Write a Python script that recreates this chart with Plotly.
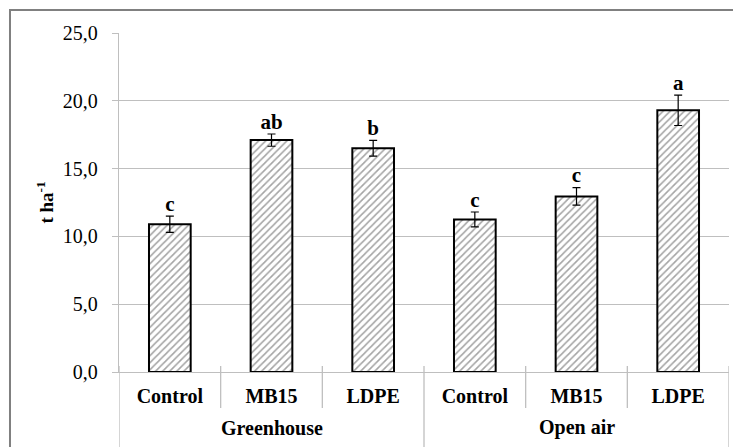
import plotly.graph_objects as go

groups = ["Greenhouse", "Greenhouse", "Greenhouse", "Open air", "Open air", "Open air"]
treatments = ["Control", "MB15", "LDPE", "Control", "MB15", "LDPE"]
yields = [10.9, 17.1, 16.5, 11.25, 12.95, 19.3]
errors = [0.6, 0.45, 0.58, 0.55, 0.64, 1.12]
letters = ["c", "ab", "b", "c", "c", "a"]
y_ticks = [0, 5, 10, 15, 20, 25]
group_names = ["Greenhouse", "Open air"]

keys = [g + "|" + t for g, t in zip(groups, treatments)]

serif = "Liberation Serif, Times New Roman, serif"
grid = "#bfbfbf"

fig = go.Figure()
fig.add_trace(go.Bar(
    x=keys, y=yields, width=0.41,
    marker=dict(color="white", line=dict(color="black", width=2),
                pattern=dict(shape="/", fgcolor="#4a4a4a", bgcolor="white", size=5, solidity=0.32)),
    error_y=dict(type="data", array=errors, color="black", thickness=1.2, width=4),
    showlegend=False,
))
fig.add_trace(go.Scatter(
    x=keys, y=[v + e for v, e in zip(yields, errors)],
    mode="text", text=letters, textposition="top center",
    textfont=dict(family=serif, size=21, color="black", weight="bold"),
    showlegend=False, cliponaxis=False,
))

n = len(keys)
shapes = []
annotations = []
for i in range(n + 1):
    xv = i - 0.5
    boundary = (i == 0 or i == n or groups[i - 1] != groups[i])
    shapes.append(dict(type="line", xref="x", yref="paper", x0=xv, x1=xv,
                       y0=-0.23 if boundary else -0.106, y1=0.018,
                       line=dict(color=grid, width=1.3)))
for g in group_names:
    idx = [i for i, gg in enumerate(groups) if gg == g]
    annotations.append(dict(xref="x", yref="paper", x=(idx[0] + idx[-1]) / 2, y=-0.165,
                            text=g, showarrow=False, yanchor="middle",
                            font=dict(family=serif, size=20, color="black", weight="bold")))
# outer chart border
shapes.append(dict(type="rect", xref="paper", yref="paper", x0=-0.1787, x1=1.02, y0=-0.26, y1=1.068,
                   line=dict(color="#808080", width=2), layer="below"))

fig.update_layout(
    width=741, height=447,
    margin=dict(l=111, r=20, t=25, b=83),
    paper_bgcolor="white", plot_bgcolor="white",
    separators=",.",
    shapes=shapes, annotations=annotations,
    font=dict(family=serif, color="black"),
)
fig.update_yaxes(
    range=[0, 25], tickvals=y_ticks, tickformat=".1f",
    showgrid=True, gridcolor=grid, gridwidth=1.3,
    showline=True, linecolor=grid, linewidth=1.3,
    ticks="outside", ticklen=6, tickcolor=grid,
    tickfont=dict(family=serif, size=20, color="black"),
    ticklabelstandoff=10,
    zeroline=False,
    title=dict(text="t ha<sup>-1</sup>", font=dict(family=serif, size=19, color="black", weight="bold"),
               standoff=4),
)
fig.update_xaxes(
    type="category", range=[-0.5, n - 0.5],
    tickvals=keys, ticktext=treatments,
    showline=True, linecolor=grid, linewidth=1.3,
    ticks="", ticklabelstandoff=6,
    tickfont=dict(family=serif, size=20, color="black", weight="bold"),
)

fig.write_html("out.html")
